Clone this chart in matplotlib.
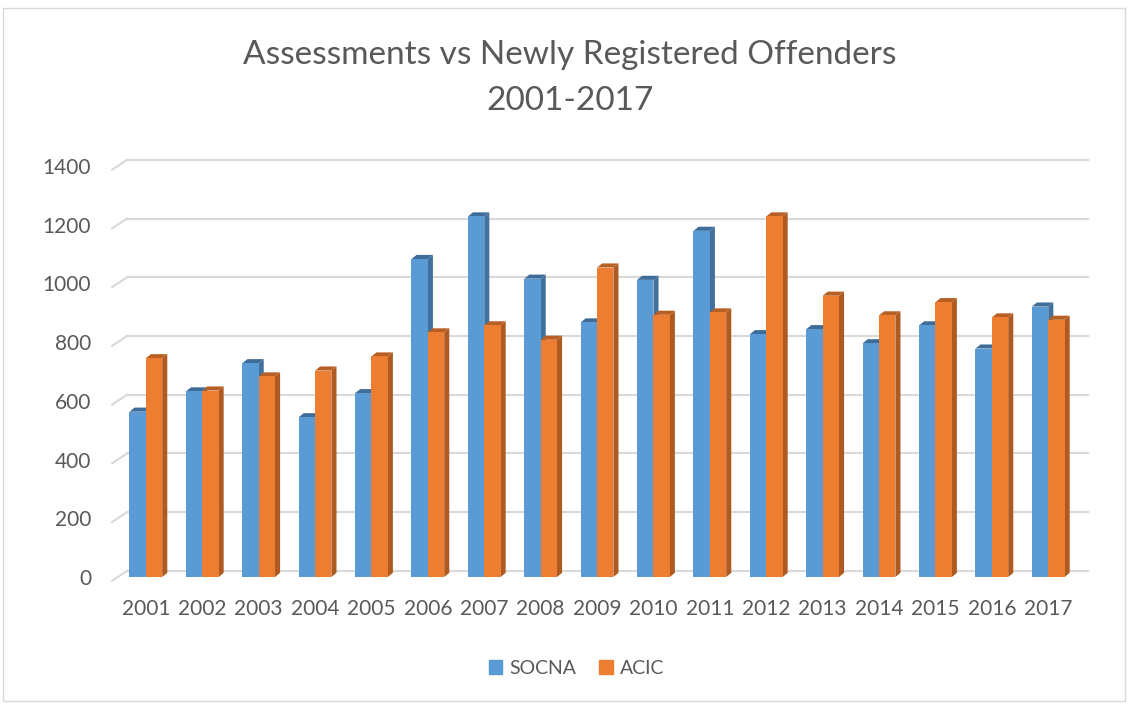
import matplotlib.pyplot as plt
from matplotlib.patches import Rectangle, Patch

plt.rcParams['font.family'] = ['Lato', 'DejaVu Sans']

# data
years = ['2001', '2002', '2003', '2004', '2005', '2006', '2007', '2008', '2009',
         '2010', '2011', '2012', '2013', '2014', '2015', '2016', '2017']
socna = [563, 632, 728, 544, 626, 1083, 1228, 1016, 867, 1012, 1179, 827, 844, 796, 857, 778, 921]
acic = [745, 635, 683, 703, 751, 833, 857, 808, 1054, 893, 901, 1228, 958, 891, 936, 884, 876]
yticks = [0, 200, 400, 600, 800, 1000, 1200, 1400]

text_col = '#595959'
grid_col = '#d9d9d9'
blue, blue_side, blue_top = '#5b9bd5', '#41719c', '#3f6d99'
orange, orange_side, orange_top = '#ed7d31', '#ae5a21', '#b85f23'

fig = plt.figure(figsize=(11.28, 7.05), dpi=100)
fig.patches.append(Rectangle((0.003, 0.006), 0.994, 0.982, transform=fig.transFigure,
                             fill=False, edgecolor='#d9d9d9', linewidth=1))
ax = fig.add_axes([0.0993, 0.1816, 0.86, 0.583])

w = 0.29      # bar width (category units)
dx = 0.09     # depth offset x
dy = 14       # depth offset y (data units)

x = list(range(len(years)))

# back-wall gridlines with small diagonal at the left
for v in yticks:
    ax.plot([-0.6, -0.33], [v - 13, v + 21], color=grid_col, lw=1.5, clip_on=False, zorder=0)
    ax.plot([-0.33, 16.7], [v + 21, v + 21], color=grid_col, lw=1.5, clip_on=False, zorder=0)


def bars3d(xs, vals, face, side, top, z):
    ax.bar(xs, vals, width=w, align='edge', color=face, zorder=z, linewidth=0)
    for x0, h in zip(xs, vals):
        ax.fill([x0 + w, x0 + w + dx, x0 + w + dx, x0 + w],
                [0, dy, h + dy, h], color=side, zorder=z - 0.5, linewidth=0)
        ax.fill([x0, x0 + dx, x0 + w + dx, x0 + w],
                [h, h + dy, h + dy, h], color=top, zorder=z - 0.5, linewidth=0)


bars3d([i - w for i in x], socna, blue, blue_side, blue_top, 3)
bars3d([i for i in x], acic, orange, orange_side, orange_top, 5)

ax.set_xlim(-0.6, 16.6)
ax.set_ylim(0, 1400)
ax.set_yticks(yticks)
ax.set_xticks(x)
ax.set_xticklabels(years)
ax.tick_params(axis='both', length=0, labelsize=15, colors=text_col)
ax.tick_params(axis='x', pad=16)
ax.tick_params(axis='y', pad=15)
for s in ax.spines.values():
    s.set_visible(False)

fig.text(0.505, 0.943, 'Assessments vs Newly Registered Offenders\n2001-2017',
         ha='center', va='top', fontsize=24, color=text_col, linespacing=1.65)

handles = [Patch(color=blue, label='SOCNA'), Patch(color=orange, label='ACIC')]
fig.legend(handles=handles, loc='center', bbox_to_anchor=(0.511, 0.052), ncol=2,
           frameon=False, fontsize=14, labelcolor=text_col, handlelength=0.7,
           handleheight=0.7, handletextpad=0.35, columnspacing=1.2)

fig.savefig('out.png', dpi=100)
